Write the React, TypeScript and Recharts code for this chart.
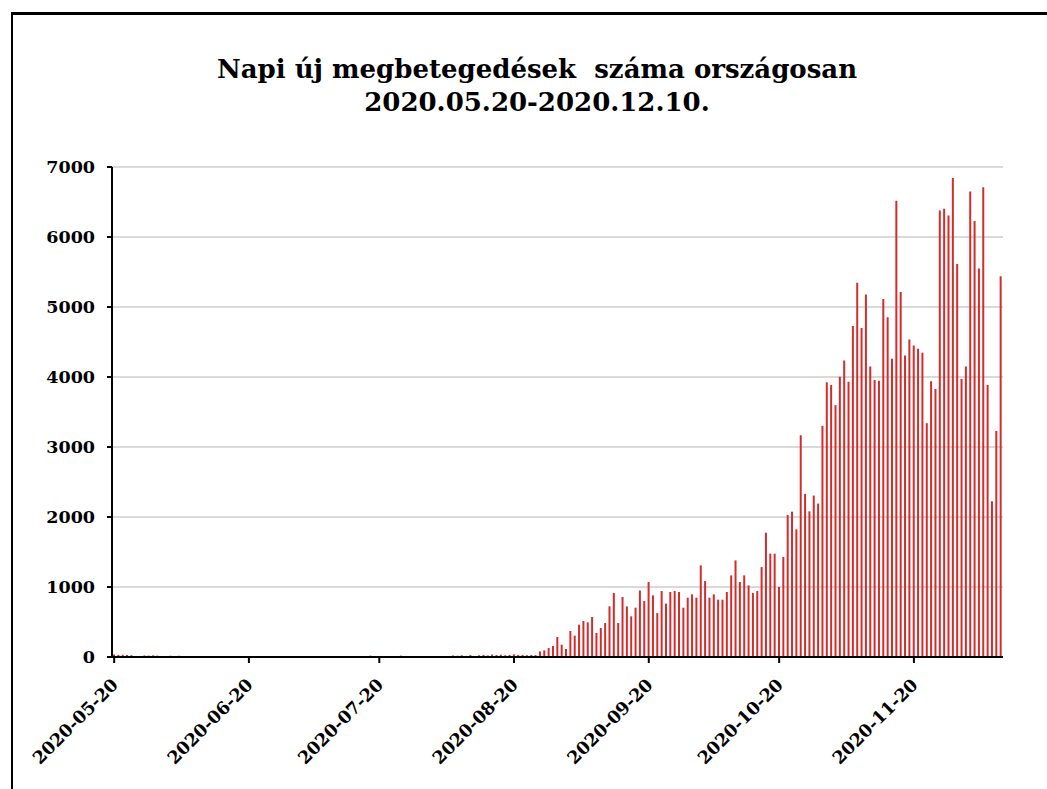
import React from 'react';
import { BarChart, Bar, XAxis, YAxis, CartesianGrid } from 'recharts';

// Daily new cases, one array per month (2020-05-20 .. 2020-12-10)
const mayValues = [35, 30, 32, 28, 26, 10, 12, 22, 20, 24, 20, 8];
const juneValues = [10, 18, 6, 18, 9, 7, 11, 8, 6, 10, 12, 7, 5, 9, 8, 11, 6, 4, 10, 7, 9, 6, 8, 5, 12, 10, 7, 9, 6, 8];
const julyValues = [6, 9, 5, 8, 11, 7, 4, 10, 6, 8, 12, 5, 9, 7, 11, 6, 8, 20, 9, 5, 10, 7, 12, 8, 20, 6, 9, 11, 7, 10, 12];
const augValues = [10, 14, 8, 12, 9, 22, 18, 25, 16, 28, 12, 25, 30, 22, 35, 28, 33, 25, 30, 38, 30, 30, 25, 30, 28, 80, 95, 128, 157, 286, 176];
const sepValues = [114, 371, 305, 462, 514, 495, 571, 343, 414, 486, 724, 914, 486, 857, 724, 581, 705, 950, 800, 1071, 881, 628, 943, 762, 928, 943, 928, 705, 847, 895];
const octValues = [847, 1309, 1085, 847, 895, 819, 819, 928, 1166, 1380, 1071, 1166, 1023, 914, 943, 1285, 1776, 1476, 1476, 1000, 1430, 2028, 2076, 1823, 3168, 2330, 2081, 2306, 2191, 3302, 3924];
const novValues = [3885, 3598, 4005, 4235, 3933, 4728, 5345, 4699, 5177, 4149, 3957, 3948, 5115, 4852, 4259, 6517, 5215, 4307, 4536, 4450, 4402, 4345, 3340, 3938, 3828, 6378, 6402, 6307, 6843, 5613];
const decValues = [3972, 4149, 6651, 6230, 5551, 6709, 3885, 2225, 3230, 5441];

const months = [
  { prefix: '2020-05', firstDay: 20, values: mayValues },
  { prefix: '2020-06', firstDay: 1, values: juneValues },
  { prefix: '2020-07', firstDay: 1, values: julyValues },
  { prefix: '2020-08', firstDay: 1, values: augValues },
  { prefix: '2020-09', firstDay: 1, values: sepValues },
  { prefix: '2020-10', firstDay: 1, values: octValues },
  { prefix: '2020-11', firstDay: 1, values: novValues },
  { prefix: '2020-12', firstDay: 1, values: decValues },
];

const xTickLabels = ['2020-05-20', '2020-06-20', '2020-07-20', '2020-08-20', '2020-09-20', '2020-10-20', '2020-11-20'];
const yTickValues = [0, 1000, 2000, 3000, 4000, 5000, 6000, 7000];

const pad = (n: number) => (n < 10 ? '0' + n : '' + n);
const data = months.flatMap((m) =>
  m.values.map((v, k) => ({ date: `${m.prefix}-${pad(m.firstDay + k)}`, cases: v }))
);

const FONT = '"DejaVu Serif", serif';

const XTick = (props: any) => {
  const { x, y, payload } = props;
  const tx = x + 5;
  const ty = y + 21;
  return (
    <text
      x={tx}
      y={ty}
      transform={`rotate(-45 ${tx} ${ty})`}
      textAnchor="end"
      fontFamily={FONT}
      fontWeight="bold"
      fontSize={17.5}
      fill="#000"
    >
      {payload.value}
    </text>
  );
};

export default function App() {
  return (
    <div style={{ position: 'absolute', left: 0, top: 0, width: 1047, height: 789, overflow: 'hidden', background: '#fff' }}>
      <div
        style={{
          position: 'absolute',
          left: 11,
          top: 12,
          width: 1100,
          height: 900,
          borderLeft: '2px solid #000',
          borderTop: '3px solid #000',
          boxSizing: 'border-box',
        }}
      />
      <svg width={1047} height={789} style={{ position: 'absolute', left: 0, top: 0 }}>
        <text x={537} y={78} textAnchor="middle" fontFamily={FONT} fontWeight="bold" fontSize={26} fill="#000" xmlSpace="preserve">
          {'Napi új megbetegedések  száma országosan'}
        </text>
        <text x={537} y={111} textAnchor="middle" fontFamily={FONT} fontWeight="bold" fontSize={26} fill="#000">
          2020.05.20-2020.12.10.
        </text>
      </svg>
      <div style={{ position: 'absolute', left: 0, top: 0 }}>
        <BarChart width={1047} height={789} data={data} margin={{ top: 167, right: 44, bottom: 32, left: 52 }}>
          <CartesianGrid vertical={false} stroke="#d9d9d9" strokeWidth={2} />
          <XAxis
            dataKey="date"
            ticks={xTickLabels}
            interval={0}
            height={100}
            tick={<XTick />}
            tickSize={6}
            axisLine={{ stroke: '#000', strokeWidth: 2 }}
            tickLine={{ stroke: '#000', strokeWidth: 2 }}
          />
          <YAxis
            domain={[0, 7000]}
            ticks={yTickValues}
            width={60}
            tickSize={5}
            tickMargin={12}
            axisLine={{ stroke: '#000', strokeWidth: 2 }}
            tickLine={{ stroke: '#000', strokeWidth: 2 }}
            tick={{ fontFamily: FONT, fontWeight: 'bold', fontSize: 17.5, fill: '#000' }}
          />
          <Bar dataKey="cases" fill="#d42b2b" barSize={2} isAnimationActive={false} />
        </BarChart>
      </div>
    </div>
  );
}
